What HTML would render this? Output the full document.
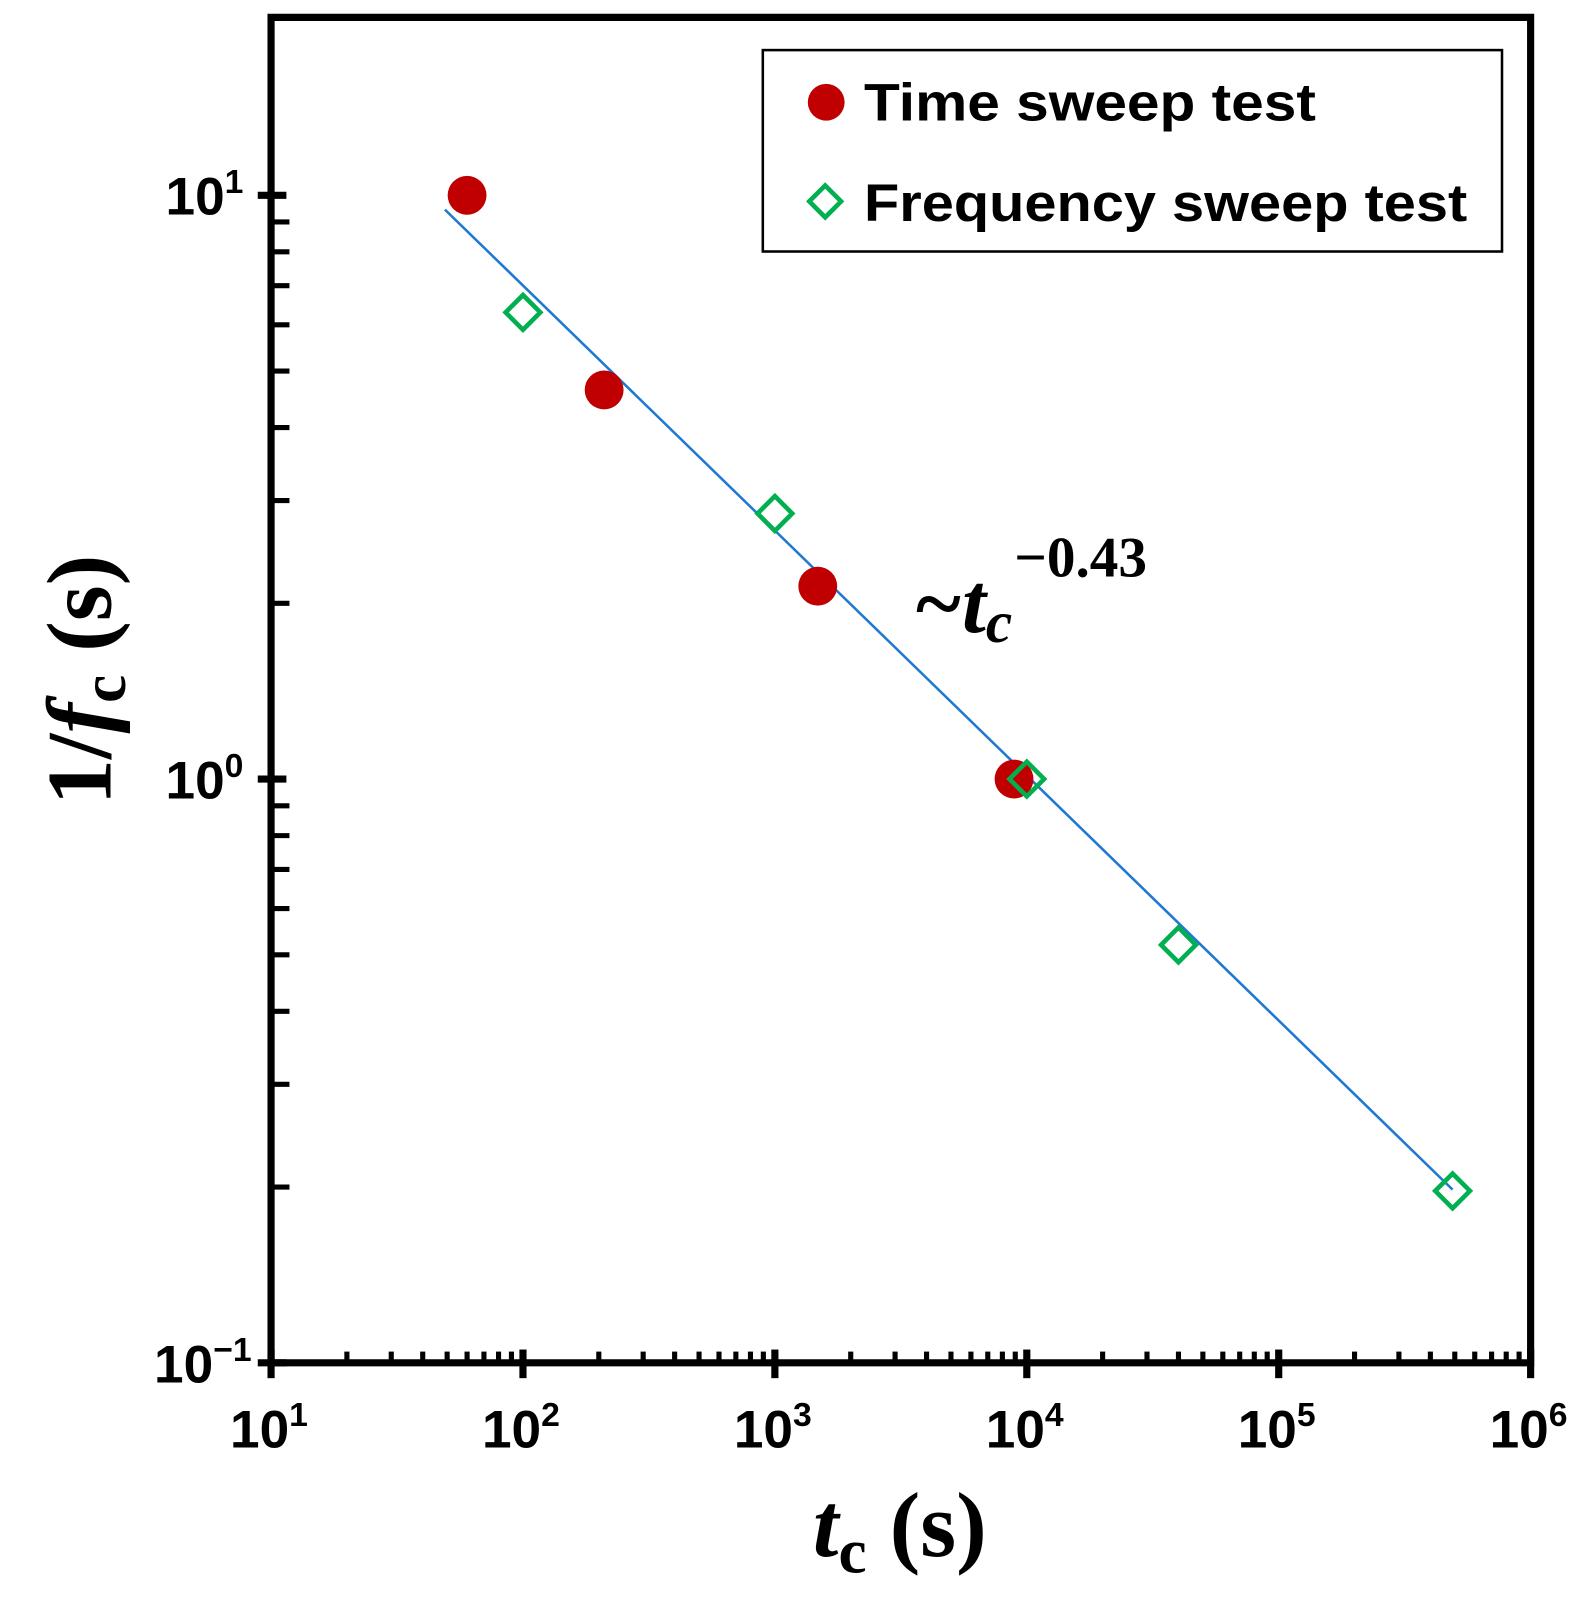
<!DOCTYPE html>
<html><head><meta charset="utf-8">
<style>
html,body{margin:0;padding:0;background:#fff;}
svg{display:block;}
.tick{font-family:"Liberation Sans",sans-serif;font-weight:bold;font-size:52px;fill:#000;}
.sup{font-size:33px;}
.leg{font-family:"Liberation Sans",sans-serif;font-weight:bold;font-size:52px;fill:#000;}
.ser{font-family:"Liberation Serif",serif;font-weight:bold;fill:#000;}
</style></head>
<body>
<svg id="chart" width="1588" height="1599" viewBox="0 0 1553 1564">
<g id="axes"></g>
<g id="marks"></g>
<rect x="746" y="49" width="723" height="197" fill="#fff" stroke="#000" stroke-width="2.5"/>
<circle cx="808" cy="100" r="18" fill="#c00000"/>
<text class="leg" x="845" y="118" textLength="442" lengthAdjust="spacingAndGlyphs">Time sweep test</text>
<rect x="796" y="186" width="22" height="22" fill="none" stroke="#00b050" stroke-width="4.5" transform="rotate(45 807 197)"/>
<text class="leg" x="845" y="216" textLength="590" lengthAdjust="spacingAndGlyphs">Frequency sweep test</text>
<text class="ser" x="893" y="618" font-size="84" font-style="italic">~t<tspan font-size="58" dy="10">c</tspan><tspan font-style="normal" font-size="56" dx="2" dy="-64">−0.43</tspan></text>
<text class="ser" font-size="90" transform="translate(108 665) rotate(-90)" text-anchor="middle">1/<tspan font-style="italic">f</tspan><tspan font-size="62" dy="14">c</tspan><tspan dy="-14"> (s)</tspan></text>
<text class="ser" font-size="90" x="880" y="1522" text-anchor="middle"><tspan font-style="italic">t</tspan><tspan font-size="62" dy="16">c</tspan><tspan dy="-16"> (s)</tspan></text>
</svg>
<script>
const xTickExp = [1,2,3,4,5,6];
const yTickExp = [-1,0,1];
const timeX = [60,210,1480,8900];
const timeY = [10.0,4.64,2.14,1.0];
const freqX = [100,1000,10000,40000,490000];
const freqY = [6.3,2.85,1.0,0.52,0.197];
const fitX = [49,490000];
const fitY = [9.45,0.198];

const X0=265,XD=246.4,Y0=762,YD=571;
function sx(v){return X0+(Math.log10(v)-1)*XD;}
function sy(v){return Y0-Math.log10(v)*YD;}
const NS='http://www.w3.org/2000/svg';
function mk(tag,attrs,parent){const e=document.createElementNS(NS,tag);for(const k in attrs)e.setAttribute(k,attrs[k]);parent.appendChild(e);return e;}
const axes=document.getElementById('axes'),marks=document.getElementById('marks');

let a=mk('path',{d:'M265 17 H1497 V1333 H265 Z',fill:'none',stroke:'#000','stroke-width':7},axes);



for(let e=1;e<=6;e++){
  const x=sx(Math.pow(10,e));
  let t=mk('line',{x1:x,x2:x,y1:1320,y2:1348,stroke:'#000','stroke-width':7},axes);
  
  
  if(e<6)for(let m=2;m<=9;m++){const xm=sx(m*Math.pow(10,e));
    let n=mk('line',{x1:xm,x2:xm,y1:1322,y2:1333,stroke:'#000','stroke-width':5},axes);
    
    }
}
xTickExp.forEach(e=>{
  const x=sx(Math.pow(10,e));
  let t=mk('text',{x:x-2,y:1416,'text-anchor':'middle',class:'tick'},axes);
  t.innerHTML='10<tspan class="sup" dy="-21">'+e+'</tspan>';
  
  
});
for(let e=-1;e<=1;e++){
  const y=sy(Math.pow(10,e));
  let t=mk('line',{x1:252,x2:280,y1:y,y2:y,stroke:'#000','stroke-width':7},axes);
  
  
  for(let m=2;m<=9;m++){const ym=sy(m*Math.pow(10,e));if(ym<20)continue;
    let n=mk('line',{x1:265,x2:283,y1:ym,y2:ym,stroke:'#000','stroke-width':5},axes);
    
    }
}
yTickExp.forEach(e=>{
  const y=sy(Math.pow(10,e));
  let t=mk('text',{x:e<0?246:238,y:y+19,'text-anchor':'end',class:'tick'},axes);
  t.innerHTML='10<tspan class="sup" dy="-21">'+(e<0?'−1':e)+'</tspan>';
  
  
});
let fl=mk('line',{x1:sx(fitX[0]),y1:sy(fitY[0]),x2:sx(fitX[1]),y2:sy(fitY[1]),stroke:'#1f78d1','stroke-width':2.5},marks);


timeX.forEach((v,i)=>{
  let c=mk('circle',{cx:sx(v),cy:sy(timeY[i]),r:19,fill:'#c00000'},marks);
  
  
});
freqX.forEach((v,i)=>{
  const x=sx(v),y=sy(freqY[i]);
  let r=mk('rect',{x:x-12,y:y-12,width:24,height:24,fill:'none',stroke:'#00b050','stroke-width':4.5,transform:'rotate(45 '+x+' '+y+')'},marks);
  
  
});
</script>
</body></html>
